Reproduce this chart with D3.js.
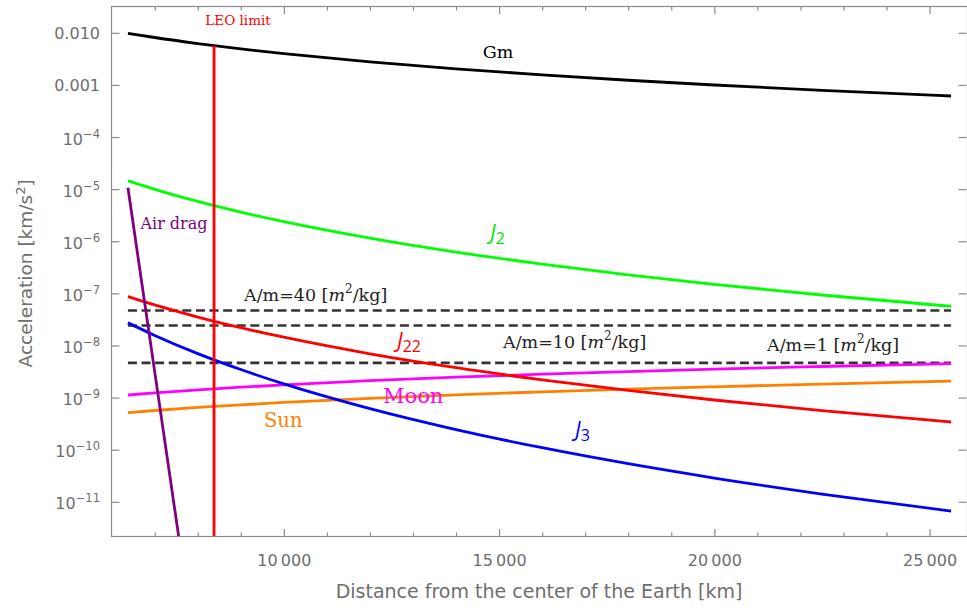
<!DOCTYPE html>
<html>
<head>
<meta charset="utf-8">
<script src="https://cdn.jsdelivr.net/npm/d3@7"></script>
<style>
  html, body { margin: 0; padding: 0; background: #fff; }
  svg { display: block; }
</style>
</head>
<body>
<svg id="chart" width="967" height="610"></svg>
<script>
// Perturbing accelerations on an Earth satellite versus geocentric distance (km/s^2)
const distances   = [6378, 7000, 8000, 9000, 10000, 12000, 14000, 16000, 18000, 20000, 22500, 25500];
const centralGm   = [9.80e-3, 8.13e-3, 6.23e-3, 4.92e-3, 3.99e-3, 2.77e-3, 2.03e-3, 1.56e-3, 1.23e-3, 9.97e-4, 7.87e-4, 6.13e-4];
const zonalJ2     = [1.44e-5, 9.92e-6, 5.82e-6, 3.63e-6, 2.38e-6, 1.15e-6, 6.20e-7, 3.64e-7, 2.27e-7, 1.49e-7, 9.30e-8, 5.64e-8];
const tesseralJ22 = [8.69e-8, 5.99e-8, 3.51e-8, 2.19e-8, 1.44e-8, 6.93e-9, 3.74e-9, 2.19e-9, 1.37e-9, 8.99e-10, 5.61e-10, 3.40e-10];
const zonalJ3     = [2.72e-8, 1.56e-8, 6.98e-9, 3.45e-9, 1.83e-9, 6.13e-10, 2.43e-10, 1.09e-10, 5.38e-11, 2.86e-11, 1.41e-11, 6.66e-12];
const lunarTide   = [1.12e-9, 1.23e-9, 1.40e-9, 1.58e-9, 1.76e-9, 2.11e-9, 2.46e-9, 2.81e-9, 3.16e-9, 3.51e-9, 3.95e-9, 4.48e-9];
const solarTide   = [5.15e-10, 5.65e-10, 6.46e-10, 7.26e-10, 8.07e-10, 9.68e-10, 1.13e-9, 1.29e-9, 1.45e-9, 1.61e-9, 1.82e-9, 2.06e-9];

const dragDistances = [6378, 6800, 7200, 7600];
const airDrag       = [1.06e-5, 4.27e-8, 2.29e-10, 1.23e-12];

// solar radiation pressure for several area-to-mass ratios
const srpRatios = ["40", "10", "1"];
const srpLevels = [4.68e-8, 2.41e-8, 4.63e-9];

// upper boundary of low Earth orbit
const leoLimit = 8378;
const leoTopAccel = 5.68e-3;

const xMajorTicks = [10000, 15000, 20000, 25000];
const yTicks = [1e-2, 1e-3, 1e-4, 1e-5, 1e-6, 1e-7, 1e-8, 1e-9, 1e-10, 1e-11];

// ---------------------------------------------------------------
const svg = d3.select("#chart");
const frame = { left: 111.5, right: 967.5, top: 6.5, bottom: 536.5 };

const x = d3.scaleLinear().domain([5996, 25882]).range([frame.left, frame.right]);
const y = d3.scaleLog().domain([Math.pow(10, -11.666), Math.pow(10, -1.495)]).range([frame.bottom, frame.top]);

const FRAME_COLOR = "#8a8a8a";
const TICK_TEXT = "#6e6e6e";
const SANS = "'DejaVu Sans', sans-serif";
const SERIF = "'DejaVu Serif', serif";

svg.append("defs").append("clipPath").attr("id", "plotClip")
  .append("rect")
  .attr("x", frame.left).attr("y", frame.top)
  .attr("width", frame.right - frame.left).attr("height", frame.bottom - frame.top);

const plot = svg.append("g").attr("clip-path", "url(#plotClip)");

const line = (xs, ys) => d3.line()
  .x((d, i) => x(xs[i]))
  .y(d => y(d))
  .curve(d3.curveMonotoneX)(ys);

// SRP reference levels (dashed)
srpLevels.forEach(v => {
  plot.append("line")
    .attr("x1", x(distances[0])).attr("x2", x(distances[distances.length - 1]))
    .attr("y1", y(v)).attr("y2", y(v))
    .attr("stroke", "#333").attr("stroke-width", 2.6)
    .attr("stroke-dasharray", "9,4.6");
});

const series = [
  { values: solarTide,   color: "#ff8000" },
  { values: lunarTide,   color: "#ff00ff" },
  { values: zonalJ3,     color: "#0000ff" },
  { values: tesseralJ22, color: "#ff0000" },
  { values: zonalJ2,     color: "#00ff00" },
  { values: centralGm,   color: "#000000" }
];
series.forEach(s => {
  plot.append("path")
    .attr("d", line(distances, s.values))
    .attr("fill", "none")
    .attr("stroke", s.color)
    .attr("stroke-width", 2.8)
    .attr("stroke-linejoin", "round");
});

plot.append("path")
  .attr("d", d3.line().x((d, i) => x(dragDistances[i])).y(d => y(d))(airDrag))
  .attr("fill", "none").attr("stroke", "#800080").attr("stroke-width", 2.8);

// LEO limit marker
plot.append("line")
  .attr("x1", x(leoLimit)).attr("x2", x(leoLimit))
  .attr("y1", y(leoTopAccel)).attr("y2", frame.bottom)
  .attr("stroke", "#ff0000").attr("stroke-width", 2.8);

// ---------------------------------------------------------------
// frame and ticks
const axes = svg.append("g");
const styleTicks = g => {
  g.select(".domain").remove();
  g.selectAll(".tick line").attr("stroke", FRAME_COLOR).attr("stroke-width", 1.2);
};

const xMinorTicks = d3.range(7000, 26000, 1000).filter(v => v % 5000 !== 0);
const thinGroup = v => v >= 10000 ? d3.format(",")(v).replace(/,/g, "\u2009") : String(v);

axes.append("g").attr("transform", `translate(0,${frame.bottom})`)
  .call(d3.axisBottom(x).tickValues(xMinorTicks).tickSize(-4).tickFormat(""))
  .call(styleTicks);
axes.append("g").attr("transform", `translate(0,${frame.bottom})`)
  .call(d3.axisBottom(x).tickValues(xMajorTicks).tickSize(-7.5).tickPadding(18).tickFormat(thinGroup))
  .call(styleTicks)
  .call(g => g.selectAll("text")
    .attr("fill", TICK_TEXT).attr("font-family", SANS).attr("font-size", 16).attr("dy", "0.71em"));
axes.append("g").attr("transform", `translate(0,${frame.top})`)
  .call(d3.axisTop(x).tickValues(xMinorTicks).tickSize(-4).tickFormat(""))
  .call(styleTicks);
axes.append("g").attr("transform", `translate(0,${frame.top})`)
  .call(d3.axisTop(x).tickValues(xMajorTicks).tickSize(-7.5).tickFormat(""))
  .call(styleTicks);
axes.append("g").attr("transform", `translate(${frame.left},0)`)
  .call(d3.axisLeft(y).tickValues(yTicks).tickSize(-8).tickFormat(""))
  .call(styleTicks);
axes.append("g").attr("transform", `translate(${frame.right - 1},0)`)
  .call(d3.axisRight(y).tickValues(yTicks).tickSize(-8).tickFormat(""))
  .call(styleTicks);

axes.append("rect")
  .attr("x", frame.left).attr("y", frame.top)
  .attr("width", frame.right - frame.left).attr("height", frame.bottom - frame.top)
  .attr("fill", "none").attr("stroke", FRAME_COLOR).attr("stroke-width", 1.2);

// y tick labels: plain decimals for the top two decades, powers of ten below
const yLabels = axes.append("g").attr("font-family", SANS).attr("fill", TICK_TEXT).attr("text-anchor", "end");
yTicks.forEach(v => {
  const e = Math.round(Math.log10(v));
  const t = yLabels.append("text").attr("x", 100);
  if (e >= -3) {
    t.attr("y", y(v) + 6).attr("font-size", 16).text(d3.format(".3f")(v));
  } else {
    t.attr("y", y(v) + 7.5).attr("font-size", 16);
    t.append("tspan").text("10");
    t.append("tspan").attr("font-size", 11.5).attr("dy", -7).text("\u2212" + Math.abs(e));
  }
});

// axis titles
axes.append("text")
  .attr("x", 539).attr("y", 598)
  .attr("text-anchor", "middle").attr("font-family", SANS).attr("font-size", 19).attr("fill", TICK_TEXT)
  .text("Distance from the center of the Earth [km]");

const yTitle = axes.append("text")
  .attr("transform", `translate(32,${y(1e-7) - 20}) rotate(-90)`)
  .attr("text-anchor", "middle").attr("font-family", SANS).attr("font-size", 18.5).attr("fill", TICK_TEXT);
yTitle.append("tspan").text("Acceleration [km/s");
yTitle.append("tspan").attr("font-size", 13).attr("dy", -7).text("2");
yTitle.append("tspan").attr("dy", 7).text("]");

// ---------------------------------------------------------------
// curve annotations
const notes = svg.append("g");
const serifLabel = (px, py, size, color, text, anchor = "start") =>
  notes.append("text").attr("x", px).attr("y", py).attr("font-family", SERIF)
    .attr("font-size", size).attr("fill", color).attr("text-anchor", anchor).text(text);

serifLabel(238, 25, 13.5, "#ff0000", "LEO limit", "middle");
serifLabel(498, 58, 17.5, "#000", "Gm", "middle");
serifLabel(174, 229, 16, "#800080", "Air drag", "middle");
serifLabel(383, 403, 21, "#ff00ff", "Moon");
serifLabel(264, 427, 19.5, "#ff8000", "Sun");

const coefLabel = (px, py, color, sub) => {
  const t = notes.append("text").attr("x", px).attr("y", py).attr("fill", color).attr("font-family", "'Open Sans', sans-serif");
  t.append("tspan").attr("font-style", "italic").attr("font-size", 21).text("J");
  t.append("tspan").attr("font-size", 16).attr("dy", 4).text(sub);
};
coefLabel(490, 240, "#00e600", "2");
coefLabel(397, 348, "#ff0000", "22");
coefLabel(575, 437, "#0000ff", "3");

const srpLabel = (px, py, ratio) => {
  const t = notes.append("text").attr("x", px).attr("y", py).attr("font-family", SERIF)
    .attr("font-size", 17.5).attr("fill", "#222");
  t.append("tspan").text(`A/m=${ratio} [`);
  t.append("tspan").attr("font-style", "italic").text("m");
  t.append("tspan").attr("font-size", 12).attr("dy", -8).text("2");
  t.append("tspan").attr("dy", 8).text("/kg]");
};
srpLabel(244, 301, srpRatios[0]);
srpLabel(503, 348, srpRatios[1]);
srpLabel(767, 351, srpRatios[2]);
</script>
</body>
</html>
